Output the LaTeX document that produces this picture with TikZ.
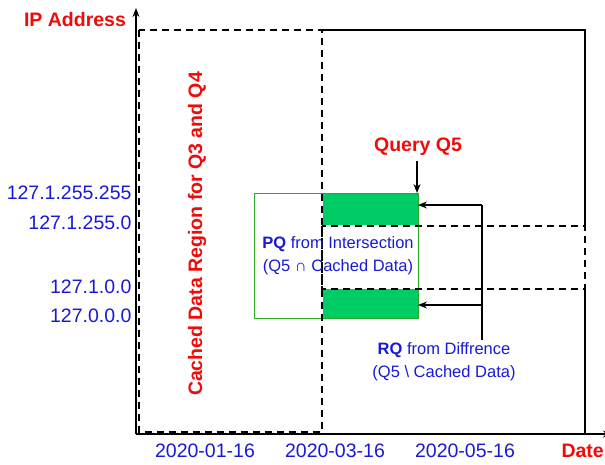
\documentclass[tikz,border=0pt]{standalone}
\usepackage{fontspec}
\setmainfont{Liberation Sans}
\usetikzlibrary{arrows.meta}
\definecolor{labred}{RGB}{240,10,10}
\definecolor{ipblue}{RGB}{25,25,215}
\definecolor{qfill}{RGB}{0,204,102}
\definecolor{qline}{RGB}{40,170,40}
\tikzset{
  big/.style={font=\fontsize{19.5}{23}\selectfont},
  bigbold/.style={font=\bfseries\fontsize{19.5}{23}\selectfont},
  small/.style={font=\fontsize{16.5}{23}\selectfont},
  cachedash/.style={line width=1.6pt,dash pattern=on 7pt off 5pt},
}
\begin{document}
\begin{tikzpicture}[x=1pt,y=-1pt,>={Stealth[length=9pt,width=7pt]}]
\useasboundingbox (0,0) rectangle (605,464);
% query parts
\fill[qfill] (323,193) rectangle (418,225);
\fill[qfill] (323,289) rectangle (418,318);
\draw[qline,line width=1pt] (254,193) rectangle (418,318);
% full box and cached regions
\draw[line width=1.6pt] (322,30)--(585,30)--(585,226);
\draw[line width=1.6pt] (585,289)--(585,434);
\draw[cachedash] (139,30) rectangle (322,432);
\draw[cachedash] (322,226) rectangle (585,289);
% axes
\draw[->,line width=1.4pt] (136,434)--(612,434);
\draw[->,line width=1.4pt] (136,434)--(136,8);
\node[bigbold,labred] (ip) at (75,20) {IP Address};
\node[bigbold,labred,anchor=east,inner xsep=0pt] (date) at (604,451) {Date};
\node[bigbold,labred,rotate=90] (cached) at (197,234) {Cached Data Region for Q3 and Q4};
% tick labels
\node[big,ipblue,anchor=east] (y1) at (135,193) {127.1.255.255};
\node[big,ipblue,anchor=east] (y2) at (135,223) {127.1.255.0};
\node[big,ipblue,anchor=east] (y3) at (135,287) {127.1.0.0};
\node[big,ipblue,anchor=east] (y4) at (135,316) {127.0.0.0};
\node[big,ipblue] (d1) at (205,451) {2020-01-16};
\node[big,ipblue] (d2) at (335,451) {2020-03-16};
\node[big,ipblue] (d3) at (465,451) {2020-05-16};
% query
\node[bigbold,labred] (q5) at (418,147) {Query Q5};
\coordinate (q5top) at (417,193);
\draw[->,line width=1.2pt] (q5.south) ++(-1,2) coordinate (q5start) -- (q5top);
\node[small,ipblue,align=center] (pq) at (338,256) {\textbf{PQ} from Intersection\\(Q5 ∩ Cached Data)};
\node[small,ipblue,align=center] (rq) at (444,362) {\textbf{RQ} from Diffrence\\(Q5 \textbackslash\ Cached Data)};
\coordinate (rqa) at (482,205);
\coordinate (rqb) at (482,305);
\coordinate (rqc) at (482,340);
\coordinate (upper) at (418,205);
\coordinate (lower) at (418,305);
\draw[line width=1.2pt] (rqa)--(rqc);
\draw[->,line width=1.2pt] (rqa)--(upper);
\draw[->,line width=1.2pt] (rqb)--(lower);
\end{tikzpicture}
\end{document}
